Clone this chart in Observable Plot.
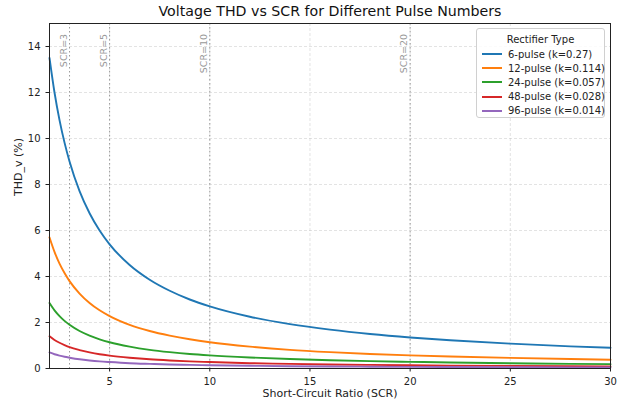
<!DOCTYPE html>
<html>
<head>
<meta charset="utf-8">
<script src="https://cdn.jsdelivr.net/npm/d3@7"></script>
<script src="https://cdn.jsdelivr.net/npm/@observablehq/plot@0.6"></script>
<style>
  html, body { margin: 0; padding: 0; background: #fff; }
  #wrap { position: relative; width: 624px; height: 405px; font-family: "DejaVu Sans", sans-serif; }
  #legend { position: absolute; left: 476px; top: 28px; width: 129px; height: 90px; box-sizing: border-box;
    border: 1px solid #d0d0d0; border-radius: 3px; background: rgba(255,255,255,0.85); font-size: 10px; color: #222; white-space: nowrap; }
  #legend .t { text-align: center; margin-top: 4px; margin-bottom: 1px; height: 13px; line-height: 13px; }
  #legend .r { display: flex; align-items: center; height: 14.2px; padding-left: 5px; }
  #legend .sw { width: 20px; height: 2px; margin-right: 6px; flex: none; }
</style>
</head>
<body>
<div id="wrap"><div id="chart"></div><div id="legend"></div></div>
<script>
const scr = [2, 2.25, 2.5, 2.75, 3, 3.5, 4, 4.5, 5, 6, 7, 8, 9, 10, 12, 14, 16, 18, 20, 22, 25, 28, 30];
const pulse6  = [13.5, 12.0, 10.8, 9.82, 9.0, 7.71, 6.75, 6.0, 5.4, 4.5, 3.86, 3.38, 3.0, 2.7, 2.25, 1.93, 1.69, 1.5, 1.35, 1.23, 1.08, 0.96, 0.9];
const pulse12 = [5.7, 5.07, 4.56, 4.15, 3.8, 3.26, 2.85, 2.53, 2.28, 1.9, 1.63, 1.43, 1.27, 1.14, 0.95, 0.81, 0.71, 0.63, 0.57, 0.52, 0.46, 0.41, 0.38];
const pulse24 = [2.85, 2.53, 2.28, 2.07, 1.9, 1.63, 1.43, 1.27, 1.14, 0.95, 0.81, 0.71, 0.63, 0.57, 0.48, 0.41, 0.36, 0.32, 0.29, 0.26, 0.23, 0.20, 0.19];
const pulse48 = [1.4, 1.24, 1.12, 1.02, 0.93, 0.8, 0.7, 0.62, 0.56, 0.47, 0.4, 0.35, 0.31, 0.28, 0.23, 0.2, 0.175, 0.156, 0.14, 0.127, 0.112, 0.1, 0.093];
const pulse96 = [0.7, 0.62, 0.56, 0.51, 0.47, 0.4, 0.35, 0.31, 0.28, 0.23, 0.2, 0.175, 0.156, 0.14, 0.117, 0.1, 0.0875, 0.078, 0.07, 0.064, 0.056, 0.05, 0.047];
const seriesNames = ["6-pulse (k=0.27)", "12-pulse (k=0.114)", "24-pulse (k=0.057)", "48-pulse (k=0.028)", "96-pulse (k=0.014)"];
const seriesColors = ["#1f77b4", "#ff7f0e", "#2ca02c", "#d62728", "#9467bd"];
const refLines = [3, 5, 10, 20];
const xTicks = [5, 10, 15, 20, 25, 30];
const yTicks = [0, 2, 4, 6, 8, 10, 12, 14];
const titleText = "Voltage THD vs SCR for Different Pulse Numbers";
const xLabel = "Short-Circuit Ratio (SCR)";
const yLabel = "THD_v (%)";
const legendTitle = "Rectifier Type";

const allSeries = [pulse6, pulse12, pulse24, pulse48, pulse96];
const rows = [];
allSeries.forEach((vals, si) => vals.forEach((v, i) => rows.push({scr: scr[i], thd: v, series: seriesNames[si]})));
const refRows = refLines.map(s => ({scr: s, label: "SCR=" + s}));

const plot = Plot.plot({
  width: 624, height: 405,
  marginLeft: 49, marginRight: 14, marginTop: 23, marginBottom: 37,
  style: {fontFamily: "DejaVu Sans, sans-serif", fontSize: "10px", color: "#222", background: "white"},
  x: {domain: [2, 30], ticks: xTicks, label: null, tickSize: 3.5},
  y: {domain: [0, 15], ticks: yTicks, label: null, tickSize: 3.5},
  color: {domain: seriesNames, range: seriesColors},
  marks: [
    Plot.gridX(xTicks, {stroke: "#b0b0b0", strokeOpacity: 0.45, strokeDasharray: "3,2", strokeWidth: 0.8}),
    Plot.gridY(yTicks, {stroke: "#b0b0b0", strokeOpacity: 0.45, strokeDasharray: "3,2", strokeWidth: 0.8}),
    Plot.ruleX(refRows, {x: "scr", stroke: "#999", strokeDasharray: "1.5,2.5", strokeWidth: 1}),
    Plot.text(refRows, {x: "scr", y: 14.55, text: "label", rotate: -90, textAnchor: "end", lineAnchor: "bottom",
      dy: 0, dx: -3, fill: "#999", fontSize: 9.5}),
    Plot.line(rows, {x: "scr", y: "thd", stroke: "series", z: "series", strokeWidth: 1.9, curve: "monotone-x"}),
    Plot.frame({stroke: "#222", strokeWidth: 1}),
    Plot.axisX(xTicks, {label: null, tickSize: 3.5, fontSize: 10}),
    Plot.axisY(yTicks, {label: null, tickSize: 3.5, fontSize: 10}),
    Plot.text([titleText], {frameAnchor: "top", dy: -18, fontSize: 14.2, fill: "#111"}),
    Plot.text([xLabel], {frameAnchor: "bottom", dy: 28, fontSize: 11, fill: "#222"}),
    Plot.text([yLabel], {frameAnchor: "left", dx: -31, rotate: -90, fontSize: 11, fill: "#222"})
  ]
});
document.getElementById("chart").appendChild(plot);

const leg = document.getElementById("legend");
const t = document.createElement("div"); t.className = "t"; t.textContent = legendTitle; leg.appendChild(t);
seriesNames.forEach((n, i) => {
  const r = document.createElement("div"); r.className = "r";
  const sw = document.createElement("div"); sw.className = "sw"; sw.style.background = seriesColors[i];
  const l = document.createElement("span"); l.textContent = n;
  r.appendChild(sw); r.appendChild(l); leg.appendChild(r);
});
</script>
</body>
</html>
